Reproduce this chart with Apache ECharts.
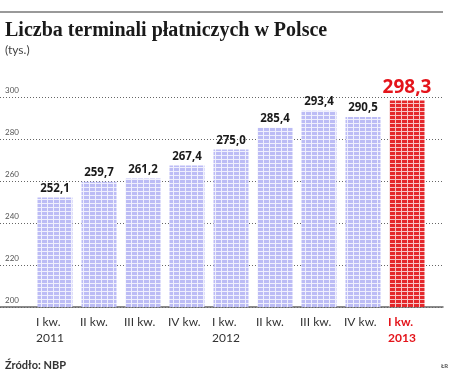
<!DOCTYPE html>
<html><head><meta charset="utf-8">
<script src="https://cdn.jsdelivr.net/npm/echarts@6/dist/echarts.min.js"></script>
<style>html,body{margin:0;padding:0;background:#fff}#c{width:462px;height:380px}</style>
</head><body><div id="c"></div>
<script>
const quarters = ['I kw.', 'II kw.', 'III kw.', 'IV kw.', 'I kw.', 'II kw.', 'III kw.', 'IV kw.', 'I kw.'];
const years = ['2011', '', '', '', '2012', '', '', '', '2013'];
const values = [252.1, 259.7, 261.2, 267.4, 275.0, 285.4, 293.4, 290.5, 298.3];
const valueLabels = ['252,1', '259,7', '261,2', '267,4', '275,0', '285,4', '293,4', '290,5', '298,3'];
const yTicks = [200, 220, 240, 260, 280, 300];

function makePattern(fg, bg) {
  const c = document.createElement('canvas');
  c.width = 6; c.height = 4;
  const g = c.getContext('2d');
  g.fillStyle = bg; g.fillRect(0, 0, 6, 4);
  g.fillStyle = fg; g.fillRect(0, 0, 5, 3);
  return { image: c, repeat: 'repeat' };
}
const bluePat = makePattern('#bcbcf5', '#f0f0fd');
const redPat = makePattern('#e4282c', '#f7c4c4');
const last = values.length - 1;

const chart = echarts.init(document.getElementById('c'), null, { renderer: 'canvas' });
chart.setOption({
  animation: false,
  title: [
    { text: 'Liczba terminali płatniczych w Polsce', left: 0, top: 16,
      textStyle: { fontFamily: 'Liberation Serif', fontWeight: 'bold', fontSize: 20, color: '#1a1a1a' } },
    { text: '(tys.)', left: 0, top: 39,
      textStyle: { fontFamily: 'Lato', fontWeight: 'normal', fontSize: 12, color: '#444' } },
    { text: 'Źródło: NBP', left: 0, top: 355,
      textStyle: { fontFamily: 'Lato', fontWeight: 'bold', fontSize: 11, color: '#333' } },
    { text: 'ŁR', left: 436, top: 358,
      textStyle: { fontFamily: 'Lato', fontWeight: 'bold', fontSize: 6, color: '#555' } }
  ],
  graphic: [
    { type: 'line', shape: { x1: 0, y1: 12, x2: 443, y2: 12 }, style: { stroke: '#999', lineWidth: 2 } }
  ],
  grid: [
    { left: 0, right: 19, top: 97, bottom: 73 },
    { left: 33, right: 33, top: 97, bottom: 73 }
  ],
  xAxis: [
    { type: 'category', gridIndex: 0, data: [''],
      axisLine: { show: true, lineStyle: { color: '#666', width: 1.5 } },
      axisTick: { show: false }, axisLabel: { show: false }, splitLine: { show: false } },
    { type: 'category', gridIndex: 1, data: quarters.map((q, i) => q + '\n' + years[i]),
      axisLine: { show: false }, axisTick: { show: false },
      axisLabel: {
        margin: 7, interval: 0,
        formatter: function (v, i) {
          const s = i === last ? 'r' : 'a';
          return '{' + s + '|' + quarters[i] + '}\n{' + s + '|' + (years[i] || ' ') + '}';
        },
        rich: {
          a: { width: 38, align: 'left', fontFamily: 'Lato', fontSize: 12, lineHeight: 16, color: '#333' },
          r: { width: 38, align: 'left', fontFamily: 'Lato', fontWeight: 'bold', fontSize: 12, lineHeight: 16, color: '#e4141b' }
        }
      } }
  ],
  yAxis: [
    { type: 'value', gridIndex: 0, min: 200, max: 300, interval: 20,
      axisLine: { show: false }, axisTick: { show: false },
      splitLine: { show: true, lineStyle: { color: '#666', type: [1, 2], width: 1 } },
      axisLabel: { inside: true, margin: 5, align: 'left', verticalAlign: 'bottom', padding: [0, 0, 3, 0],
        fontFamily: 'Lato', fontSize: 8, color: '#555',
        formatter: v => yTicks.includes(v) ? String(v) : '' } },
    { type: 'value', gridIndex: 1, min: 200, max: 300, interval: 20, show: false,
      splitLine: { show: false } }
  ],
  series: [{
    type: 'bar', xAxisIndex: 1, yAxisIndex: 1, barWidth: 35,
    data: values.map((v, i) => ({
      value: v,
      itemStyle: { color: i === last ? redPat : bluePat },
      label: i === last
        ? { show: true, position: 'top', distance: 3, formatter: valueLabels[i],
            fontFamily: 'Open Sans', fontWeight: 'bold', fontSize: 19, color: '#e4141b' }
        : { show: true, position: 'top', distance: 3, formatter: valueLabels[i],
            fontFamily: 'Open Sans', fontWeight: 'bold', fontSize: 11.5, color: '#1a1a1a' }
    }))
  }]
});
</script></body></html>
